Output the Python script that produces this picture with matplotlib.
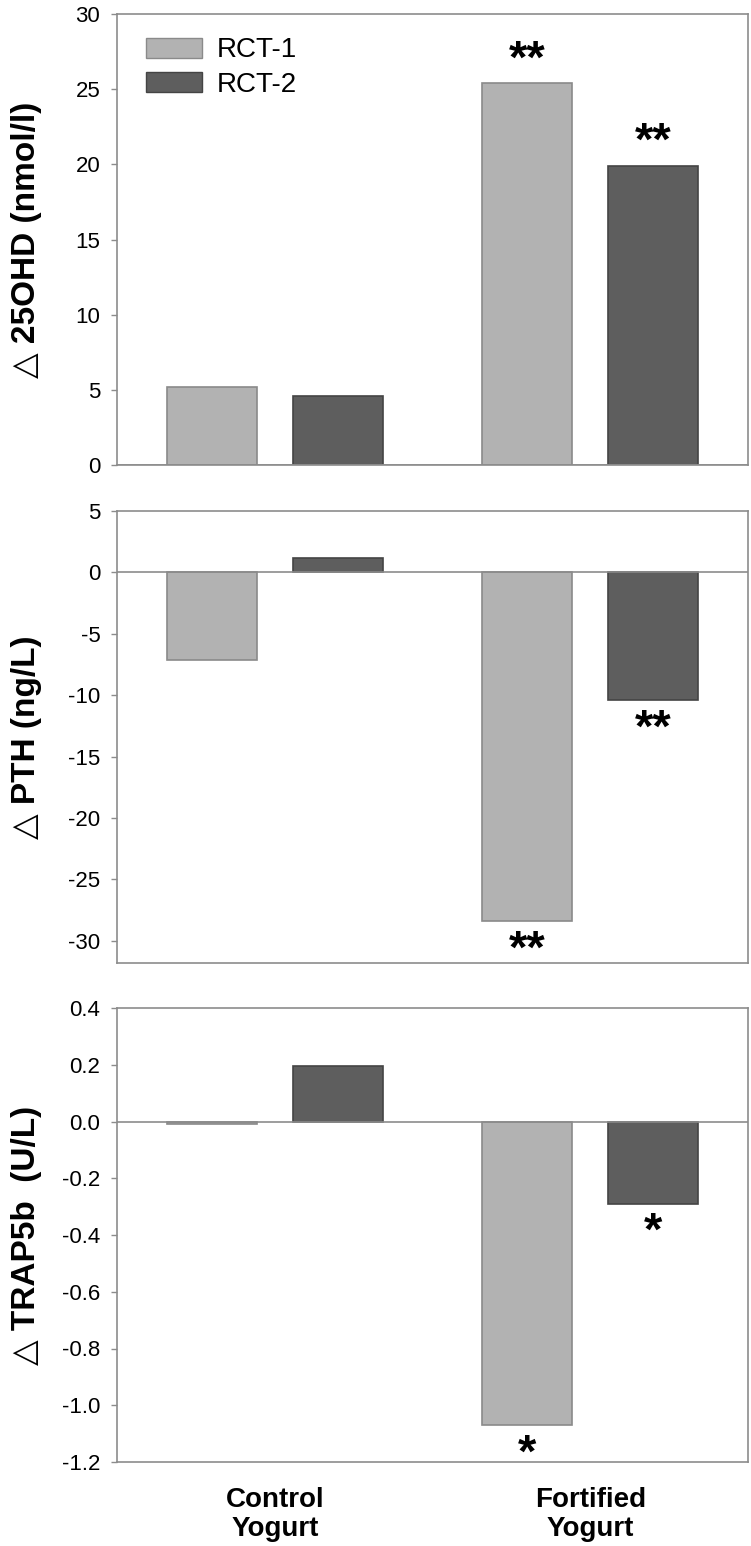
import numpy as np
import matplotlib.pyplot as plt
from matplotlib.patches import Patch
from matplotlib.ticker import FormatStrFormatter, MultipleLocator

plt.rcParams['font.family'] = ['Liberation Sans', 'DejaVu Sans']
plt.rcParams['axes.unicode_minus'] = False

groups = ["Control\nYogurt", "Fortified\nYogurt"]
series = ["RCT-1", "RCT-2"]

ohd_rct1 = [5.2, 25.4]
ohd_rct2 = [4.6, 19.9]
pth_rct1 = [-7.1, -28.4]
pth_rct2 = [1.2, -10.4]
trap_rct1 = [-0.01, -1.07]
trap_rct2 = [0.195, -0.29]

ohd_stars = [["", "**"], ["", "**"]]
pth_stars = [["", "**"], ["", "**"]]
trap_stars = [["", "*"], ["", "*"]]

light = "#b2b2b2"
dark = "#5e5e5e"
edge_light = "#8a8a8a"
edge_dark = "#444444"
spine_col = "#8c8c8c"

W, H = 751, 1546


def add_ax(top, bottom):
    return fig.add_axes([117 / W, 1 - bottom / H, (748 - 117) / W, (bottom - top) / H])


fig = plt.figure(figsize=(W / 100, H / 100), dpi=100)
ax1 = add_ax(14, 465)
ax2 = add_ax(511, 963)
ax3 = add_ax(1008, 1462)

x = np.arange(len(groups))
off = 0.2
bw = 0.285

panels = [
    (ax1, ohd_rct1, ohd_rct2, ohd_stars, (0, 30), 5, "%d", "\u25b3 25OHD (nmol/l)"),
    (ax2, pth_rct1, pth_rct2, pth_stars, (-31.8, 5), 5, "%d", "\u25b3 PTH (ng/L)"),
    (ax3, trap_rct1, trap_rct2, trap_stars, (-1.2, 0.4), 0.2, "%.1f", "\u25b3 TRAP5b  (U/L)"),
]

for ax, v1, v2, stars, ylim, step, fmt, label in panels:
    ax.bar(x - off, v1, bw, color=light, edgecolor=edge_light, linewidth=1.2, zorder=2)
    ax.bar(x + off, v2, bw, color=dark, edgecolor=edge_dark, linewidth=1.2, zorder=2)
    ax.axhline(0, color=spine_col, linewidth=1.2, zorder=3)
    ax.set_xlim(-0.5, 1.5)
    ax.set_ylim(*ylim)
    ax.yaxis.set_major_locator(MultipleLocator(step))
    ax.yaxis.set_major_formatter(FormatStrFormatter(fmt))
    ax.tick_params(axis='y', direction='out', length=4, width=1, color=spine_col,
                   labelsize=16, pad=8)
    ax.tick_params(axis='x', length=0)
    for s in ax.spines.values():
        s.set_color(spine_col)
        s.set_linewidth(1.2)
    ax.set_ylabel(label, fontsize=24, fontweight='bold')
    ax.yaxis.set_label_coords(-0.119, 0.5)
    for vals, xs, st in [(v1, x - off, stars[0]), (v2, x + off, stars[1])]:
        for xi, vi, s in zip(xs, vals, st):
            if not s:
                continue
            dy = 16.5 if vi > 0 else -21
            ax.annotate(s, xy=(xi, vi), xytext=(0, dy), textcoords='offset points',
                        ha='center', va='center', fontsize=34, fontweight='bold')

ax1.set_xticks([])
ax2.set_xticks([])
ax3.set_xticks(x)
ax3.set_xticklabels(groups, fontsize=20, fontweight='bold', linespacing=1.15)
ax3.tick_params(axis='x', pad=18)

handles = [Patch(facecolor=light, edgecolor=edge_light, label=series[0]),
           Patch(facecolor=dark, edgecolor=edge_dark, label=series[1])]
ax1.legend(handles=handles, loc='upper left', bbox_to_anchor=(0.02, 0.985), frameon=False,
           fontsize=20, handlelength=2.0, handleheight=0.75, labelspacing=0.3,
           handletextpad=0.55, borderaxespad=0.2)

fig.savefig("out.png", dpi=100)
